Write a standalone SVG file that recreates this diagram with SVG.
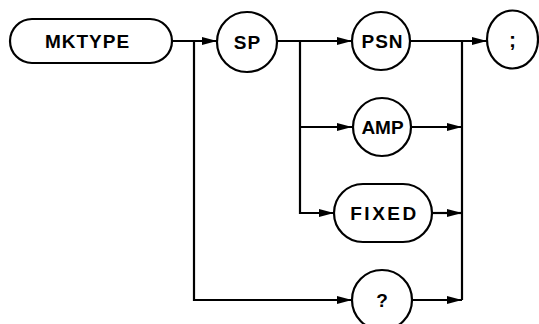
<svg xmlns="http://www.w3.org/2000/svg" width="539" height="324" viewBox="0 0 539 324">
<style>
.n{fill:#fff;stroke:#000;stroke-width:2.2}
.t{font-family:"Liberation Sans",Arial,sans-serif;font-weight:bold;font-size:19px;text-anchor:middle;fill:#000}
.c{fill:none;stroke:#000;stroke-width:2.2}
</style>
<defs>
<marker id="a" markerWidth="15" markerHeight="10" refX="15" refY="5" orient="auto" markerUnits="userSpaceOnUse">
<path d="M0,1 L15,5 L0,9 Z" fill="#000"/>
</marker>
</defs>
<rect width="539" height="324" fill="#fff"/>
<g id="connectors">
<path class="c" d="M172,41 H217" marker-end="url(#a)"/>
<path class="c" d="M194,41 V300 H352" marker-end="url(#a)"/>
<path class="c" d="M277,41 H352" marker-end="url(#a)"/>
<path class="c" d="M300,41 V213 H334" marker-end="url(#a)"/>
<path class="c" d="M300,127 H352" marker-end="url(#a)"/>
<path class="c" d="M410,41 H487" marker-end="url(#a)"/>
<path class="c" d="M462,41 V300"/>
<path class="c" d="M412,127 H462" marker-end="url(#a)"/>
<path class="c" d="M432,213 H462" marker-end="url(#a)"/>
<path class="c" d="M412,300 H462" marker-end="url(#a)"/>
</g>
<g id="mktype">
<rect class="n" x="10" y="19" width="162" height="44" rx="22" ry="22"/>
<text class="t" x="87.5" y="48" style="letter-spacing:1px">MKTYPE</text>
</g>
<g id="sp">
<circle class="n" cx="247" cy="42" r="30"/>
<text class="t" x="247.5" y="48.5" style="letter-spacing:1px">SP</text>
</g>
<g id="psn">
<circle class="n" cx="381" cy="41" r="29"/>
<text class="t" x="382.5" y="48" style="letter-spacing:1px">PSN</text>
</g>
<g id="semicolon">
<ellipse class="n" cx="512.5" cy="39.5" rx="25.5" ry="29"/>
<text class="t" x="512.5" y="47" style="font-size:21px">;</text>
</g>
<g id="amp">
<circle class="n" cx="382" cy="127" r="29"/>
<text class="t" x="382.5" y="134">AMP</text>
</g>
<g id="fixed">
<rect class="n" x="334" y="184" width="98" height="58" rx="29" ry="29"/>
<text class="t" x="384.5" y="220" style="letter-spacing:2.5px">FIXED</text>
</g>
<g id="query">
<circle class="n" cx="382" cy="300" r="30"/>
<text class="t" x="382" y="307">?</text>
</g>
</svg>
